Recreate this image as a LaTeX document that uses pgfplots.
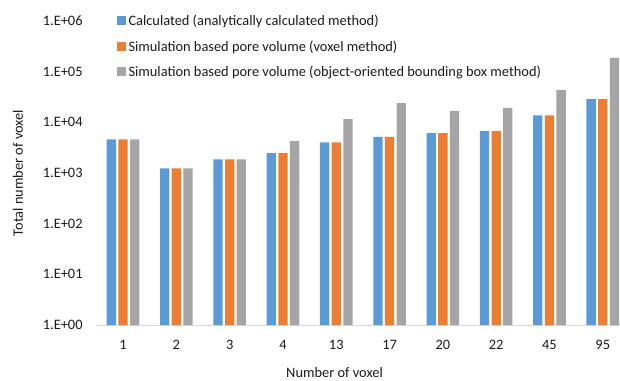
\documentclass[border=0pt]{standalone}
\usepackage{fontspec}
\setmainfont{Carlito}
\usepackage{pgfplots}
\pgfplotsset{compat=1.18}

\definecolor{calcblue}{HTML}{5B9BD5}
\definecolor{voxorange}{HTML}{ED7D31}
\definecolor{boxgray}{HTML}{A5A5A5}
\definecolor{axisgray}{HTML}{D9D9D9}
\definecolor{labeltext}{HTML}{1A1A1A}

\begin{document}
\begin{tikzpicture}[font=\fontsize{14.4bp}{17bp}\selectfont, text=labeltext]
\begin{axis}[
  name=ax,
  scale only axis,
  x=53.3bp, height=304bp,
  xmin=-0.5, xmax=9.32,
  ymode=log, ymin=1, ymax=1e6,
  ybar=2.35bp, bar width=9.3bp,
  axis x line=bottom, axis y line=left,
  x axis line style={-, draw=axisgray, line width=1bp},
  y axis line style={draw=none},
  major tick length=0pt, tick style={draw=none},
  yminorticks=false,
  xtick={0,...,9},
  xticklabels={1,2,3,4,13,17,20,22,45,95},
  ytick={1,10,100,1000,10000,100000,1000000},
  yticklabels={1.E+00,1.E+01,1.E+02,1.E+03,1.E+04,1.E+05,1.E+06},
  yticklabel style={anchor=east, inner sep=0pt, xshift=-13.6bp},
  xticklabel style={anchor=north, inner sep=0pt, yshift=-14.8bp},
  ylabel={Total number of voxel},
  ylabel style={at={(axis description cs:-0.150,0.5)}, anchor=center, inner sep=0pt},
  xlabel={Number of voxel},
  xlabel style={at={(axis description cs:0.455,-0.158)}, anchor=center, inner sep=0pt},
  legend style={at={(axis description cs:0.0388,1.0178)}, anchor=north west,
    draw=none, fill=none, inner sep=0pt, outer sep=0pt,
    row sep=12bp, column sep=2.5bp,
    nodes={inner sep=0pt, anchor=base west, text height=10bp, text depth=3.5bp}},
  legend cell align=left,
  legend image code/.code={\fill[#1] (0bp,0.1bp) rectangle (9.3bp,9.4bp);},
]
% analytically calculated voxel counts
\addplot[fill=calcblue, draw=none] coordinates {
  (0,4600) (1,1230) (2,1850) (3,2470) (4,4010)
  (5,5180) (6,6120) (7,6700) (8,13700) (9,28700)};
% voxel method
\addplot[fill=voxorange, draw=none] coordinates {
  (0,4600) (1,1230) (2,1850) (3,2470) (4,4010)
  (5,5180) (6,6120) (7,6700) (8,13700) (9,28700)};
% object-oriented bounding box method
\addplot[fill=boxgray, draw=none] coordinates {
  (0,4600) (1,1230) (2,1850) (3,4260) (4,11600)
  (5,23900) (6,16900) (7,19300) (8,43200) (9,187000)};
\legend{Calculated (analytically calculated method),
  Simulation based pore volume (voxel method),
  Simulation based pore volume (object-oriented bounding box method)}
\end{axis}
\pgfresetboundingbox
\path[use as bounding box] ([shift={(-96.4bp,-56bp)}]ax.south west)
  rectangle ([shift={(523.6bp,325bp)}]ax.south west);
\end{tikzpicture}
\end{document}
